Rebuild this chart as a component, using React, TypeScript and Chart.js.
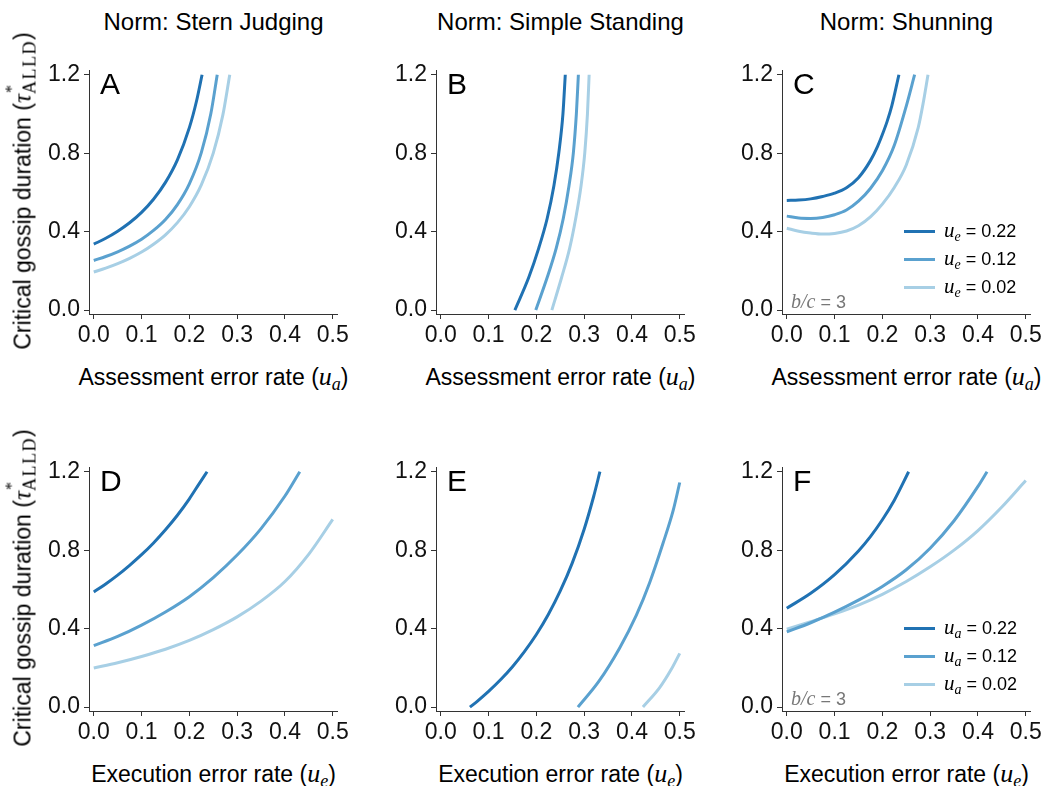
import React, { useEffect, useRef } from "react";
import { Chart, registerables } from "chart.js";

Chart.register(...registerables);

// ---------- tick labels ----------
const X_TICKS = [0, 0.1, 0.2, 0.3, 0.4, 0.5];
const Y_TICKS = [0, 0.4, 0.8, 1.2];

// ---------- legend / series labels ----------
const SERIES_LEVELS = ["0.22", "0.12", "0.02"];
const TITLES = ["Norm: Stern Judging", "Norm: Simple Standing", "Norm: Shunning"];

// ---------- Panel A: Stern Judging vs u_a ----------
const A_X_DARK = [0, 0.025, 0.05, 0.075, 0.1, 0.125, 0.15, 0.175, 0.2, 0.215, 0.2266];
const A_Y_DARK = [0.336, 0.366, 0.402, 0.445, 0.498, 0.565, 0.651, 0.766, 0.93, 1.066, 1.2];
const A_X_MID = [0, 0.025, 0.05, 0.075, 0.1, 0.125, 0.15, 0.175, 0.2, 0.225, 0.245, 0.2583];
const A_Y_MID = [0.253, 0.273, 0.297, 0.326, 0.361, 0.406, 0.462, 0.538, 0.644, 0.803, 1.002, 1.2];
const A_X_LIGHT = [0, 0.025, 0.05, 0.075, 0.1, 0.125, 0.15, 0.175, 0.2, 0.225, 0.25, 0.27, 0.2845];
const A_Y_LIGHT = [0.194, 0.214, 0.237, 0.264, 0.296, 0.336, 0.384, 0.446, 0.527, 0.638, 0.8, 0.994, 1.2];

// ---------- Panel B: Simple Standing vs u_a ----------
const B_Y = [0, 0.166, 0.316, 0.467, 0.634, 0.802, 1.0, 1.2];
const B_X_DARK = [0.155, 0.184, 0.205, 0.2226, 0.2367, 0.247, 0.2556, 0.2605];
const B_X_MID = [0.1987, 0.2226, 0.2416, 0.2563, 0.2683, 0.2774, 0.2837, 0.2879];
const B_X_LIGHT = [0.2324, 0.2528, 0.2697, 0.2823, 0.2935, 0.3013, 0.3069, 0.3104];

// ---------- Panel C: Shunning vs u_a ----------
const C_X_DARK = [0, 0.025, 0.05, 0.075, 0.1, 0.125, 0.15, 0.175, 0.19, 0.2, 0.21, 0.22, 0.2346];
const C_Y_DARK = [0.559, 0.561, 0.567, 0.579, 0.596, 0.624, 0.675, 0.762, 0.835, 0.895, 0.962, 1.044, 1.2];
const C_X_MID = [0, 0.025, 0.05, 0.075, 0.1, 0.125, 0.15, 0.175, 0.2, 0.225, 0.25, 0.2675];
const C_Y_MID = [0.479, 0.469, 0.467, 0.472, 0.486, 0.51, 0.555, 0.62, 0.71, 0.84, 1.04, 1.2];
const C_X_LIGHT = [0, 0.025, 0.05, 0.075, 0.1, 0.125, 0.15, 0.175, 0.2, 0.225, 0.25, 0.275, 0.285, 0.2955];
const C_Y_LIGHT = [0.417, 0.402, 0.393, 0.388, 0.391, 0.403, 0.43, 0.475, 0.54, 0.625, 0.74, 0.93, 1.05, 1.2];

// ---------- Panel D: Stern Judging vs u_e ----------
const D_X_DARK = [0, 0.025, 0.05, 0.075, 0.1, 0.125, 0.15, 0.175, 0.2, 0.22, 0.237];
const D_Y_DARK = [0.587, 0.628, 0.673, 0.723, 0.777, 0.837, 0.904, 0.978, 1.062, 1.137, 1.2];
const D_X_MID = [0, 0.05, 0.1, 0.15, 0.2, 0.25, 0.3, 0.35, 0.4, 0.431];
const D_Y_MID = [0.313, 0.36, 0.418, 0.485, 0.563, 0.66, 0.775, 0.91, 1.076, 1.2];
const D_X_LIGHT = [0, 0.05, 0.1, 0.15, 0.2, 0.25, 0.3, 0.35, 0.4, 0.45, 0.5];
const D_Y_LIGHT = [0.199, 0.226, 0.258, 0.295, 0.34, 0.395, 0.46, 0.54, 0.64, 0.78, 0.957];

// ---------- Panel E: Simple Standing vs u_e ----------
const E_X_DARK = [0.061, 0.075, 0.1, 0.125, 0.15, 0.175, 0.2, 0.225, 0.25, 0.275, 0.3, 0.32, 0.333];
const E_Y_DARK = [0, 0.027, 0.08, 0.139, 0.206, 0.283, 0.37, 0.472, 0.592, 0.734, 0.907, 1.075, 1.2];
const E_X_MID = [0.287, 0.331, 0.374, 0.409, 0.437, 0.465, 0.486, 0.5];
const E_Y_MID = [0, 0.132, 0.3, 0.467, 0.634, 0.835, 1.0, 1.145];
const E_X_LIGHT = [0.423, 0.458, 0.482, 0.5];
const E_Y_LIGHT = [0, 0.099, 0.191, 0.274];

// ---------- Panel F: Shunning vs u_e ----------
const F_X_DARK = [0, 0.05, 0.1, 0.15, 0.175, 0.2, 0.225, 0.255];
const F_Y_DARK = [0.504, 0.58, 0.675, 0.796, 0.869, 0.955, 1.055, 1.2];
const F_X_MID = [0, 0.05, 0.1, 0.15, 0.2, 0.25, 0.3, 0.35, 0.4, 0.419];
const F_Y_MID = [0.383, 0.43, 0.484, 0.545, 0.615, 0.7, 0.81, 0.95, 1.125, 1.2];
const F_X_LIGHT = [0, 0.05, 0.1, 0.15, 0.2, 0.25, 0.3, 0.35, 0.4, 0.45, 0.5];
const F_Y_LIGHT = [0.397, 0.435, 0.475, 0.52, 0.575, 0.64, 0.715, 0.8, 0.9, 1.02, 1.155];

// ---------- styling ----------
const COLORS = ["#2072b3", "#5aa1cf", "#a7cfe5"];
const AXIS_COLOR = "#333333";
const SANS = '"Liberation Sans", Arial, Helvetica, sans-serif';
const SERIF = '"Liberation Serif", "Times New Roman", serif';

const COL_LEFT = [89, 436, 782];
const ROW_TOP = [67, 464];
const AREA_W = 249;
const AREA_H = 247;
const Y_AXIS_W = 60;
const X_AXIS_H = 44;
const PAD_TOP = 14;
const PAD_RIGHT = 14;
const CANVAS_W = Y_AXIS_W + AREA_W + PAD_RIGHT;
const CANVAS_H = PAD_TOP + AREA_H + X_AXIS_H;

type Series = { x: number[]; y: number[] };

const PANELS: { letter: string; row: number; col: number; series: Series[] }[] = [
  { letter: "A", row: 0, col: 0, series: [{ x: A_X_DARK, y: A_Y_DARK }, { x: A_X_MID, y: A_Y_MID }, { x: A_X_LIGHT, y: A_Y_LIGHT }] },
  { letter: "B", row: 0, col: 1, series: [{ x: B_X_DARK, y: B_Y }, { x: B_X_MID, y: B_Y }, { x: B_X_LIGHT, y: B_Y }] },
  { letter: "C", row: 0, col: 2, series: [{ x: C_X_DARK, y: C_Y_DARK }, { x: C_X_MID, y: C_Y_MID }, { x: C_X_LIGHT, y: C_Y_LIGHT }] },
  { letter: "D", row: 1, col: 0, series: [{ x: D_X_DARK, y: D_Y_DARK }, { x: D_X_MID, y: D_Y_MID }, { x: D_X_LIGHT, y: D_Y_LIGHT }] },
  { letter: "E", row: 1, col: 1, series: [{ x: E_X_DARK, y: E_Y_DARK }, { x: E_X_MID, y: E_Y_MID }, { x: E_X_LIGHT, y: E_Y_LIGHT }] },
  { letter: "F", row: 1, col: 2, series: [{ x: F_X_DARK, y: F_Y_DARK }, { x: F_X_MID, y: F_Y_MID }, { x: F_X_LIGHT, y: F_Y_LIGHT }] },
];

function PanelChart({ left, top, series }: { left: number; top: number; series: Series[] }) {
  const ref = useRef<HTMLCanvasElement>(null);
  useEffect(() => {
    const canvas = ref.current;
    if (!canvas) return;
    const tickFont = { family: SANS, size: 23 };
    const chart = new Chart(canvas, {
      type: "line",
      data: {
        datasets: series.map((s, i) => ({
          data: s.x.map((x, j) => ({ x, y: s.y[j] })),
          borderColor: COLORS[i],
          backgroundColor: COLORS[i],
          borderWidth: 3,
          pointRadius: 0,
          pointHoverRadius: 0,
          fill: false,
          cubicInterpolationMode: "monotone",
          borderCapStyle: "butt",
        })),
      },
      options: {
        animation: false,
        responsive: false,
        events: [],
        layout: { padding: { top: PAD_TOP, right: PAD_RIGHT, left: 0, bottom: 0 } },
        plugins: { legend: { display: false }, tooltip: { enabled: false }, title: { display: false } },
        scales: {
          x: {
            type: "linear",
            min: -0.01,
            max: 0.51,
            afterBuildTicks: (s: any) => {
              s.ticks = X_TICKS.map((v) => ({ value: v }));
            },
            afterFit: (s: any) => {
              s.height = X_AXIS_H;
            },
            ticks: {
              callback: (v: any) => Number(v).toFixed(1),
              font: tickFont,
              color: "#111",
              padding: 3,
              maxRotation: 0,
              autoSkip: false,
            },
            grid: { display: true, drawOnChartArea: false, drawTicks: true, tickLength: 5, color: AXIS_COLOR, lineWidth: 1 },
            border: { display: true, color: AXIS_COLOR, width: 1 },
          },
          y: {
            type: "linear",
            min: -0.02,
            max: 1.22,
            afterBuildTicks: (s: any) => {
              s.ticks = Y_TICKS.map((v) => ({ value: v }));
            },
            afterFit: (s: any) => {
              s.width = Y_AXIS_W;
            },
            ticks: {
              callback: (v: any) => Number(v).toFixed(1),
              font: tickFont,
              color: "#111",
              padding: 4,
              autoSkip: false,
            },
            grid: { display: true, drawOnChartArea: false, drawTicks: true, tickLength: 5, color: AXIS_COLOR, lineWidth: 1 },
            border: { display: true, color: AXIS_COLOR, width: 1 },
          },
        },
      } as any,
    });
    return () => chart.destroy();
  }, []);
  return (
    <canvas
      ref={ref}
      width={CANVAS_W}
      height={CANVAS_H}
      style={{ position: "absolute", left: left - Y_AXIS_W, top: top - PAD_TOP, width: CANVAS_W, height: CANVAS_H }}
    />
  );
}

const mathU = { fontFamily: SERIF, fontStyle: "italic" as const };

function XTitle({ left, top, sub, row }: { left: number; top: number; sub: string; row: number }) {
  return (
    <div
      style={{
        position: "absolute",
        left: left + AREA_W / 2,
        top: top + AREA_H + 50,
        transform: "translateX(-50%)",
        fontFamily: SANS,
        fontSize: 23,
        lineHeight: 1,
        whiteSpace: "nowrap",
        color: "#000",
      }}
    >
      {row === 0 ? "Assessment error rate (" : "Execution error rate ("}
      <span style={{ ...mathU, fontSize: 26 }}>u</span>
      <span style={{ ...mathU, fontSize: 18, position: "relative", top: 5 }}>{sub}</span>)
    </div>
  );
}

function YTitle({ top }: { top: number }) {
  return (
    <div
      style={{
        position: "absolute",
        left: 22,
        top: top + AREA_H / 2,
        transform: "translate(-50%, -50%) rotate(-90deg)",
        fontFamily: SANS,
        fontSize: 23,
        lineHeight: 1,
        whiteSpace: "nowrap",
        color: "#000",
      }}
    >
      {"Critical gossip duration ("}
      <span style={{ ...mathU, fontSize: 25 }}>τ</span>
      <span style={{ position: "relative", display: "inline-block" }}>
        <span style={{ position: "absolute", left: 1, top: -8, fontFamily: SERIF, fontSize: 16 }}>*</span>
        <span style={{ position: "relative", top: 5, fontFamily: SERIF, fontSize: 18, letterSpacing: 1.5 }}>ALLD</span>
      </span>
      )
    </div>
  );
}

function Legend({ left, top, sub }: { left: number; top: number; sub: string }) {
  const offsets = [82.5, 54.5, 26.5];
  return (
    <>
      {SERIES_LEVELS.map((val, i) => (
        <div
          key={val}
          style={{
            position: "absolute",
            left: left + 122,
            top: top + AREA_H - offsets[i] - 12,
            height: 24,
            display: "flex",
            alignItems: "center",
            whiteSpace: "nowrap",
          }}
        >
          <div style={{ width: 31, height: 3, background: COLORS[i] }} />
          <div style={{ marginLeft: 9, fontFamily: SANS, fontSize: 18, color: "#000", lineHeight: "24px" }}>
            <span style={{ ...mathU, fontSize: 21 }}>u</span>
            <span style={{ ...mathU, fontSize: 14, position: "relative", top: 4 }}>{sub}</span>
            {" = " + val}
          </div>
        </div>
      ))}
    </>
  );
}

function BcNote({ left, top }: { left: number; top: number }) {
  return (
    <div
      style={{
        position: "absolute",
        left: left + 9,
        top: top + AREA_H - 23,
        fontFamily: SANS,
        fontSize: 18,
        lineHeight: 1,
        color: "#777",
        whiteSpace: "nowrap",
      }}
    >
      <span style={{ ...mathU, fontSize: 20 }}>b/c</span>
      {" = 3"}
    </div>
  );
}

export default function App() {
  return (
    <div
      style={{
        position: "absolute",
        left: 0,
        top: 0,
        width: 1046,
        height: 786,
        background: "#fff",
        overflow: "hidden",
      }}
    >
      {TITLES.map((t, c) => (
        <div
          key={t}
          style={{
            position: "absolute",
            left: COL_LEFT[c] + AREA_W / 2,
            top: 10,
            transform: "translateX(-50%)",
            fontFamily: SANS,
            fontSize: 24,
            lineHeight: 1,
            whiteSpace: "nowrap",
            color: "#000",
          }}
        >
          {t}
        </div>
      ))}
      {PANELS.map((p) => {
        const left = COL_LEFT[p.col];
        const top = ROW_TOP[p.row];
        return (
          <React.Fragment key={p.letter}>
            <PanelChart left={left} top={top} series={p.series} />
            <div
              style={{
                position: "absolute",
                left: left + 11,
                top: top + 2,
                fontFamily: SANS,
                fontSize: 30,
                lineHeight: 1,
                color: "#000",
              }}
            >
              {p.letter}
            </div>
            <XTitle left={left} top={top} sub={p.row === 0 ? "a" : "e"} row={p.row} />
            {p.col === 0 && <YTitle top={top} />}
            {p.col === 2 && <Legend left={left} top={top} sub={p.row === 0 ? "e" : "a"} />}
            {p.col === 2 && <BcNote left={left} top={top} />}
          </React.Fragment>
        );
      })}
    </div>
  );
}
